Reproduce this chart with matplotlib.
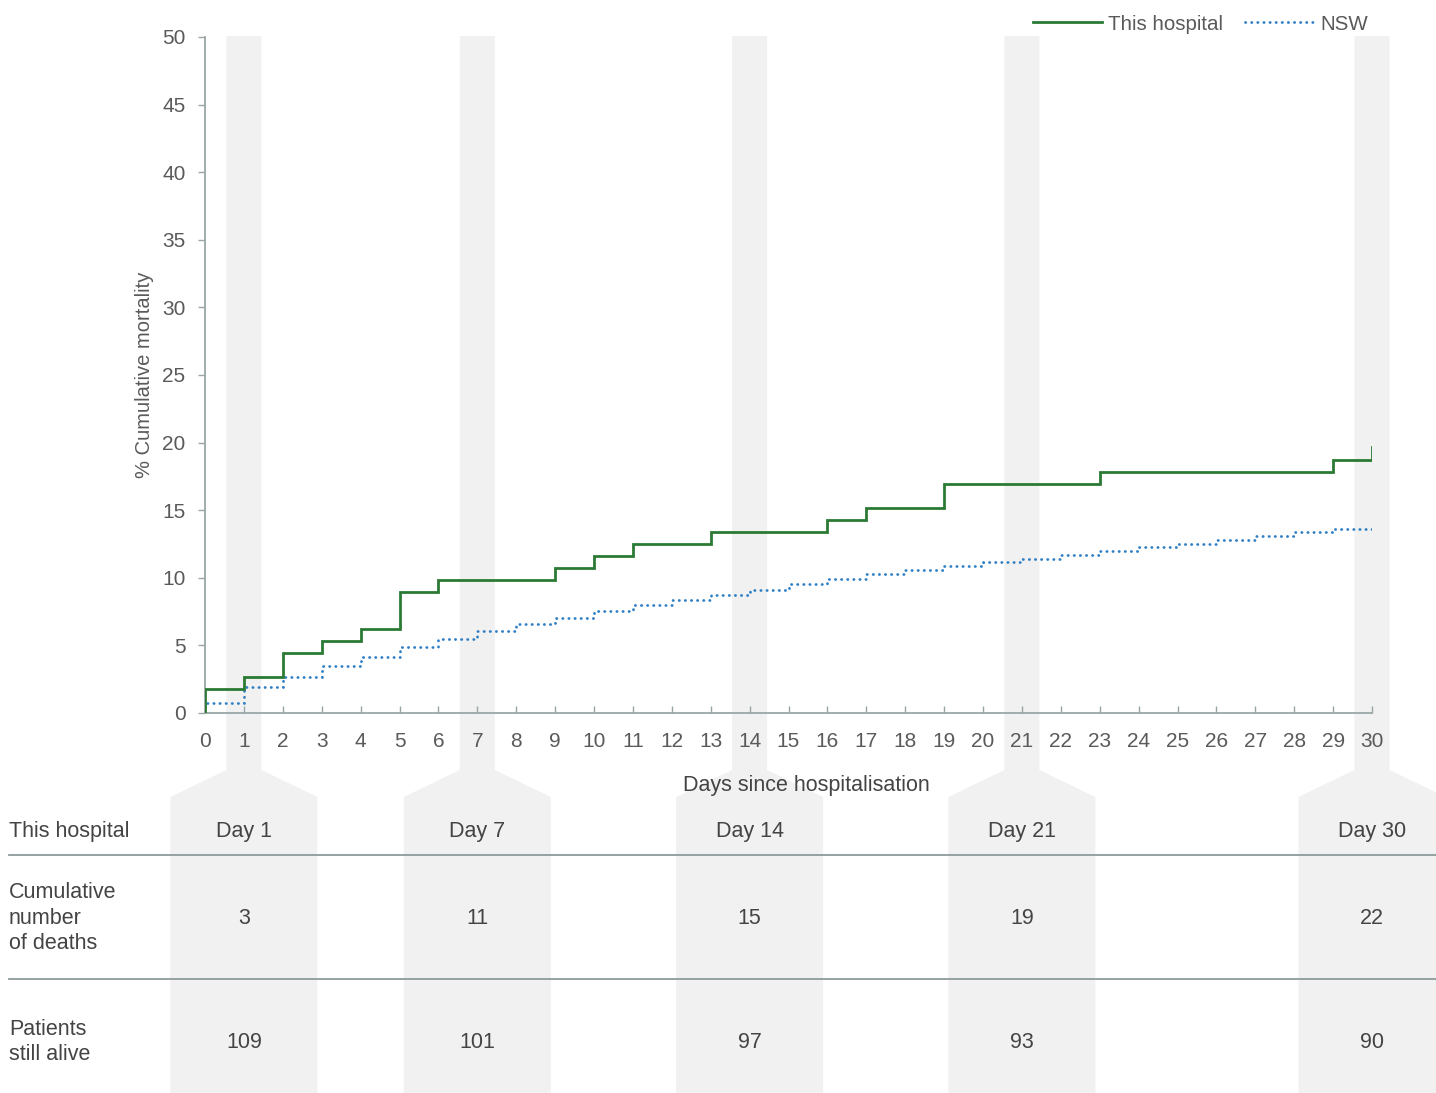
import matplotlib
matplotlib.use("Agg")
import matplotlib.pyplot as plt
from matplotlib.patches import Polygon
from matplotlib.lines import Line2D

plt.rcParams['font.family'] = ['Liberation Sans', 'DejaVu Sans']

# ---- data ----
days = list(range(0, 31))
hospital_pct = [1.79, 2.68, 4.46, 5.36, 6.25, 8.93, 9.82, 9.82, 9.82, 10.71,
                11.61, 12.50, 12.50, 13.39, 13.39, 13.39, 14.29, 15.18, 15.18, 16.96,
                16.96, 16.96, 16.96, 17.86, 17.86, 17.86, 17.86, 17.86, 17.86, 18.75,
                19.64]
nsw_pct = [0.77, 1.9, 2.69, 3.48, 4.12, 4.88, 5.47, 6.07, 6.56, 7.03,
           7.52, 7.97, 8.36, 8.73, 9.07, 9.52, 9.91, 10.26, 10.55, 10.87,
           11.17, 11.39, 11.69, 11.96, 12.28, 12.52, 12.82, 13.09, 13.37, 13.61,
           13.78]
highlight_days = [1, 7, 14, 21, 30]
day_labels = ["Day 1", "Day 7", "Day 14", "Day 21", "Day 30"]
cum_deaths = [3, 11, 15, 19, 22]
still_alive = [109, 101, 97, 93, 90]
row_labels = ["This hospital", "Cumulative\nnumber\nof deaths", "Patients\nstill alive"]
y_ticks = list(range(0, 51, 5))

GREEN = "#2b7a34"
BLUE = "#2f7fc5"
TXT = "#5a5a5a"
DARK = "#444444"
SPINE = "#9aa6a6"
BAND = "#f1f1f1"
DOTS = (0, (0.1, 2.1))

W, H = 1436, 1093
fig = plt.figure(figsize=(W / 100, H / 100), dpi=100)
fig.patch.set_facecolor("white")

def fx(px):
    return px / W

def fy(py):
    return 1 - py / H

ax = fig.add_axes([fx(205), fy(713), fx(1372) - fx(205), fy(37) - fy(713)])
ax.patch.set_alpha(0)

# lines (step, post)
xs = [0] + days
ax.plot(xs, [0] + hospital_pct, drawstyle="steps-post", color=GREEN, lw=2.0,
        solid_joinstyle="miter", zorder=3, label="This hospital")
ax.plot(xs, [0] + nsw_pct, drawstyle="steps-post", color=BLUE, lw=2.0,
        linestyle=DOTS, dash_capstyle="round", zorder=2, label="NSW")

ax.set_xlim(0, 30)
ax.set_ylim(0, 50)
ax.set_xticks(days)
ax.set_yticks(y_ticks)
for s in ["top", "right"]:
    ax.spines[s].set_visible(False)
for s in ["left", "bottom"]:
    ax.spines[s].set_color(SPINE)
    ax.spines[s].set_linewidth(1.3)
ax.tick_params(axis="y", direction="out", length=5, width=1, color=SPINE,
               labelcolor=TXT, labelsize=15, pad=9)
ax.tick_params(axis="x", direction="in", length=5, width=1, color=SPINE,
               labelcolor=TXT, labelsize=15, pad=14)

fig.text(fx(145), fy(375), "% Cumulative mortality", rotation=90, ha="center",
         va="center", fontsize=14.5, color=TXT)
fig.text(fx(806), fy(786), "Days since hospitalisation", ha="center",
         va="center", fontsize=15.5, color=DARK)

# legend
handles = [Line2D([], [], color=GREEN, lw=2.0),
           Line2D([], [], color=BLUE, lw=2.0, linestyle=DOTS, dash_capstyle="round")]
fig.legend(handles, ["This hospital", "NSW"], loc="center right",
           bbox_to_anchor=(fx(1368), fy(24)), ncol=2, frameon=False,
           fontsize=14.8, handlelength=3.4, handletextpad=0.25,
           columnspacing=1.1, borderpad=0, borderaxespad=0, labelcolor=TXT)

# bands (chevron columns) at highlighted days
fig.canvas.draw()
centers = [ax.transData.transform((d, 0))[0] for d in highlight_days]
for cx in centers:
    hn, hw = 17.5, 73.5
    pts = [(cx - hn, 36), (cx + hn, 36), (cx + hn, 770), (cx + hw, 797),
           (cx + hw, H), (cx - hw, H), (cx - hw, 797), (cx - hn, 770)]
    poly = Polygon([(fx(px), fy(py)) for px, py in pts], closed=True,
                   transform=fig.transFigure, facecolor=BAND, edgecolor="none",
                   zorder=-5)
    fig.patches.append(poly)

FS = 15.5
for cx, lab, v1, v2 in zip(centers, day_labels, cum_deaths, still_alive):
    fig.text(cx / W, fy(832), lab, ha="center", va="center", fontsize=FS, color=DARK)
    fig.text(cx / W, fy(918), str(v1), ha="center", va="center", fontsize=FS, color=DARK)
    fig.text(cx / W, fy(1042), str(v2), ha="center", va="center", fontsize=FS, color=DARK)

fig.text(fx(9), fy(832), row_labels[0], ha="left", va="center", fontsize=FS,
         color=DARK)
fig.text(fx(9), fy(918), row_labels[1], ha="left", va="center", fontsize=FS,
         color=DARK, linespacing=1.27)
fig.text(fx(9), fy(1042), row_labels[2], ha="left", va="center", fontsize=FS,
         color=DARK, linespacing=1.27)

for yy in [855, 979]:
    fig.add_artist(Line2D([fx(9), 1], [fy(yy), fy(yy)], transform=fig.transFigure,
                          color="#8e9a9a", lw=1.3))

fig.savefig("out.png", dpi=100)
